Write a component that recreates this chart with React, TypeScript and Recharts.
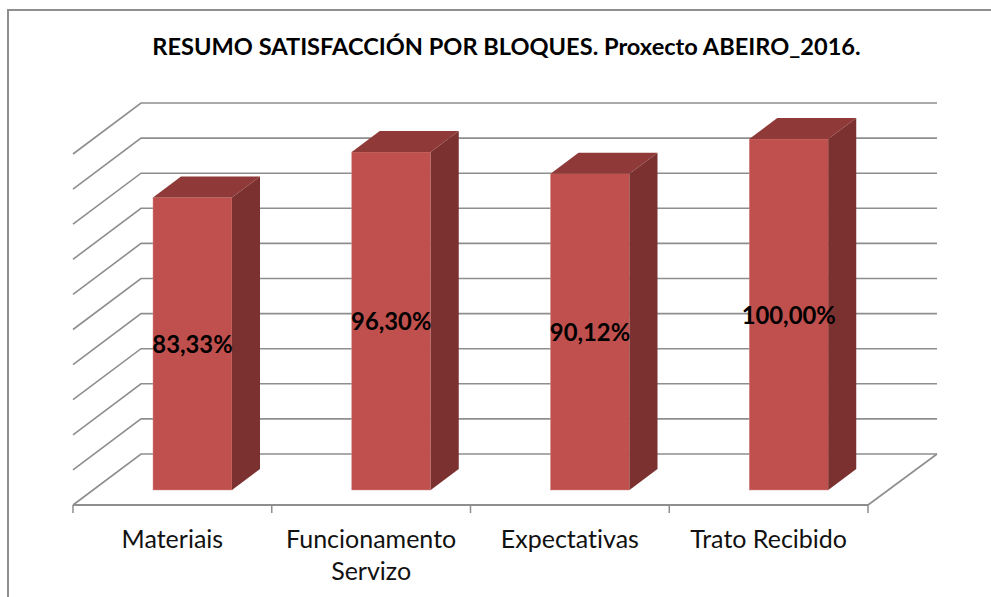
import React from 'react';
import { Bar, BarChart, CartesianGrid, LabelList, XAxis, YAxis } from 'recharts';

const categories = ['Materiais', 'Funcionamento Servizo', 'Expectativas', 'Trato Recibido'];
const satisfaction = [83.33, 96.3, 90.12, 100];
const gridTicks = [0, 10, 20, 30, 40, 50, 60, 70, 80, 90, 100];

const data = categories.map((name, i) => ({ name, value: satisfaction[i] }));

const TITLE = 'RESUMO SATISFACCIÓN POR BLOQUES. Proxecto ABEIRO_2016.';
const FONT = 'Lato, "Open Sans", sans-serif';
const LINE = '#8e8e8e';

// front plane of the fake 3D box
const LEFT = 73;
const RIGHT = 868;
const TOP = 154;
const BOTTOM = 505;
const WALL_DX = 68;
const WALL_DY = 51;
// bars sit part way into the floor
const BAR_DX = 20;
const BAR_DY = 15;
const BAR_DEPTH_X = 28;
const BAR_DEPTH_Y = 21;

// one grid line = side wall diagonal + back wall horizontal
const WallLine = (props: any) => {
  const y = props.y1;
  const backY = y - WALL_DY;
  return (
    <g>
      <polyline
        points={`${LEFT},${y} ${LEFT + WALL_DX},${backY} ${RIGHT + WALL_DX + 1},${backY}`}
        fill="none"
        stroke={LINE}
        strokeWidth={1.6}
      />
      {Math.abs(y - BOTTOM) < 1 && (
        <line x1={RIGHT} y1={y} x2={RIGHT + WALL_DX + 1} y2={backY} stroke={LINE} strokeWidth={1.6} />
      )}
    </g>
  );
};

const CategoryTick = (props: any) => {
  const { x, payload, index } = props;
  const slot = (RIGHT - LEFT) / categories.length;
  const lines = payload.value === 'Funcionamento Servizo' ? ['Funcionamento', 'Servizo'] : [payload.value];
  return (
    <g>
      <line x1={x - slot / 2} y1={BOTTOM} x2={x - slot / 2} y2={BOTTOM + 8} stroke={LINE} strokeWidth={1.5} />
      {index === categories.length - 1 && (
        <line x1={x + slot / 2} y1={BOTTOM} x2={x + slot / 2} y2={BOTTOM + 8} stroke={LINE} strokeWidth={1.5} />
      )}
      <text
        x={x}
        textAnchor="middle"
        fontFamily={FONT}
        fontSize={25}
        fill="#111"
        style={{ fontVariantLigatures: 'none' }}
      >
        {lines.map((line: string, i: number) => (
          <tspan key={line} x={x} y={BOTTOM + 43 + i * 32}>
            {line}
          </tspan>
        ))}
      </text>
    </g>
  );
};

const Bar3D = (props: any) => {
  const { x, y, width, height } = props;
  const fx = x + BAR_DX;
  const fy = y - BAR_DY;
  const dx = BAR_DEPTH_X;
  const dy = BAR_DEPTH_Y;
  return (
    <g>
      <rect x={fx} y={fy} width={width} height={height} fill="#c0504d" stroke="#d58d8b" strokeWidth={0.5} />
      <polygon
        points={`${fx},${fy} ${fx + dx},${fy - dy} ${fx + width + dx},${fy - dy} ${fx + width},${fy}`}
        fill="#8f3a39"
      />
      <polygon
        points={`${fx + width},${fy} ${fx + width + dx},${fy - dy} ${fx + width + dx},${fy + height - dy} ${fx + width},${fy + height}`}
        fill="#7b3130"
      />
    </g>
  );
};

const formatPercent = (v: any) => `${Number(v).toFixed(2).replace('.', ',')}%`;

export default function App() {
  return (
    <div style={{ position: 'absolute', left: 0, top: 0, width: 991, height: 597, background: '#fff', overflow: 'hidden' }}>
      <div
        style={{
          position: 'absolute',
          left: 7,
          top: 9,
          width: 984,
          height: 588,
          borderTop: `2px solid ${LINE}`,
          borderLeft: `2px solid ${LINE}`,
          boxSizing: 'border-box',
        }}
      />
      <div
        style={{
          position: 'absolute',
          left: 0,
          top: 33,
          width: 1013,
          textAlign: 'center',
          fontFamily: FONT,
          fontWeight: 700,
          fontSize: 23.6,
          lineHeight: '26px',
          color: '#000',
          whiteSpace: 'nowrap',
        }}
      >
        {TITLE}
      </div>
      <div style={{ position: 'absolute', left: 0, top: 0 }}>
        <BarChart
          width={991}
          height={597}
          data={data}
          barSize={79}
          margin={{ left: LEFT, right: 991 - RIGHT, top: TOP, bottom: 0 }}
          style={{ overflow: 'visible' }}
        >
          <CartesianGrid vertical={false} horizontal={(p: any) => <WallLine {...p} />} />
          <YAxis type="number" domain={[0, 100]} ticks={gridTicks} interval={0} width={0} hide />
          <XAxis
            dataKey="name"
            height={597 - BOTTOM}
            interval={0}
            tickLine={false}
            axisLine={{ stroke: LINE, strokeWidth: 1.8 }}
            tick={<CategoryTick />}
          />
          <Bar dataKey="value" shape={<Bar3D />} isAnimationActive={false}>
            <LabelList
              dataKey="value"
              position="center"
              formatter={formatPercent}
              dx={BAR_DX}
              dy={-BAR_DY + 1}
              fill="#000"
              fontFamily={FONT}
              fontWeight={700}
              fontSize={23.8}
            />
          </Bar>
        </BarChart>
      </div>
    </div>
  );
}
